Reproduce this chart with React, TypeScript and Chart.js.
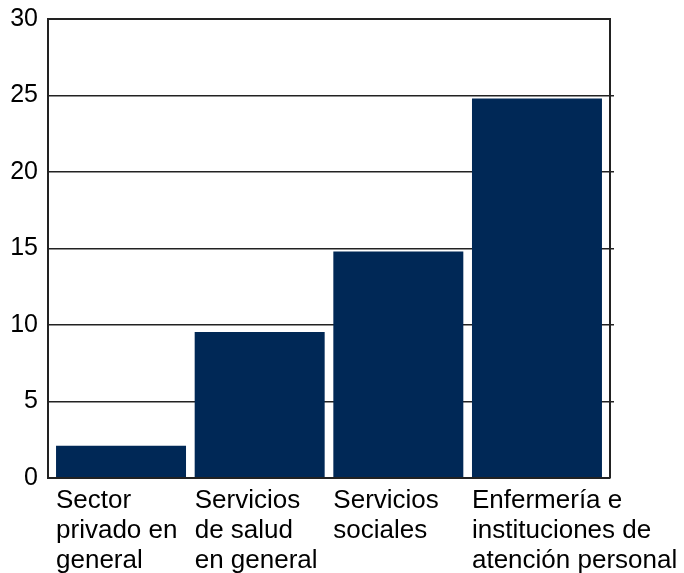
import React, { useEffect, useRef } from 'react';
import { Chart, registerables } from 'chart.js';

Chart.register(...registerables);

const categories: string[][] = [
  ['Sector', 'privado en', 'general'],
  ['Servicios', 'de salud', 'en general'],
  ['Servicios', 'sociales'],
  ['Enfermería e', 'instituciones de', 'atención personal'],
];
const values: number[] = [2.1, 9.55, 14.8, 24.8];
const yMin = 0;
const yMax = 30;
const yStep = 5;

const FONT = "'Liberation Sans', Arial, sans-serif";

const insetX = {
  id: 'insetX',
  afterLayout(chart: any) {
    const x = chart.scales.x;
    x.left = chart.chartArea.left + 3.7;
    x.right = chart.chartArea.right - 3.7;
    x.width = x.right - x.left;
    x.configure();
  },
};

export default function App() {
  const ref = useRef<HTMLCanvasElement | null>(null);

  useEffect(() => {
    if (!ref.current) return;
    const chart = new Chart(ref.current, {
      type: 'bar',
      data: {
        labels: categories,
        datasets: [
          {
            data: values,
            backgroundColor: '#002856',
            borderWidth: 0,
            barPercentage: 0.9375,
            categoryPercentage: 1,
            yAxisID: 'y',
          },
        ],
      },
      plugins: [insetX],
      options: {
        responsive: false,
        animation: false,
        layout: { padding: { top: 11, right: 70, left: 0, bottom: 0 } },
        plugins: { legend: { display: false }, tooltip: { enabled: false } },
        scales: {
          x: {
            offset: true,
            grid: { display: false, drawTicks: false },
            border: { display: false },
            ticks: {
              align: 'start',
              labelOffset: -65,
              padding: 8,
              maxRotation: 0,
              autoSkip: false,
              color: '#000',
              font: { family: FONT, size: 26, lineHeight: 1.154 },
            },
            afterFit: (s: any) => {
              s.paddingLeft = 0;
              s.paddingRight = 0;
              s.height = 95;
            },
          },
          y: {
            min: yMin,
            max: yMax,
            z: 1,
            ticks: {
              stepSize: yStep,
              padding: 10,
              color: '#000',
              font: { family: FONT, size: 25 },
            },
            grid: {
              color: '#222',
              lineWidth: (ctx: any) => (ctx.tick && (ctx.tick.value === yMin || ctx.tick.value === yMax) ? 2 : 1.5),
              drawTicks: false,
            },
            border: { color: '#222', width: 2 },
            afterFit: (s: any) => {
              s.width = 40;
              s.paddingTop = 0;
              s.paddingBottom = 0;
            },
          },
          y2: {
            position: 'right',
            min: yMin,
            max: yMax,
            ticks: { display: false, stepSize: yStep },
            grid: {
              drawOnChartArea: false,
              drawTicks: true,
              tickLength: 4,
              lineWidth: 1.5,
              color: '#222',
              tickColor: (ctx: any) =>
                ctx.tick && (ctx.tick.value === yMin || ctx.tick.value === yMax) ? 'rgba(0,0,0,0)' : '#222',
            },
            border: { color: '#222', width: 2 },
            afterFit: (s: any) => {
              s.width = 4;
              s.paddingTop = 0;
              s.paddingBottom = 0;
            },
          },
        },
      },
    });
    return () => chart.destroy();
  }, []);

  return <canvas ref={ref} width={676} height={565} style={{ display: 'block' }} />;
}
